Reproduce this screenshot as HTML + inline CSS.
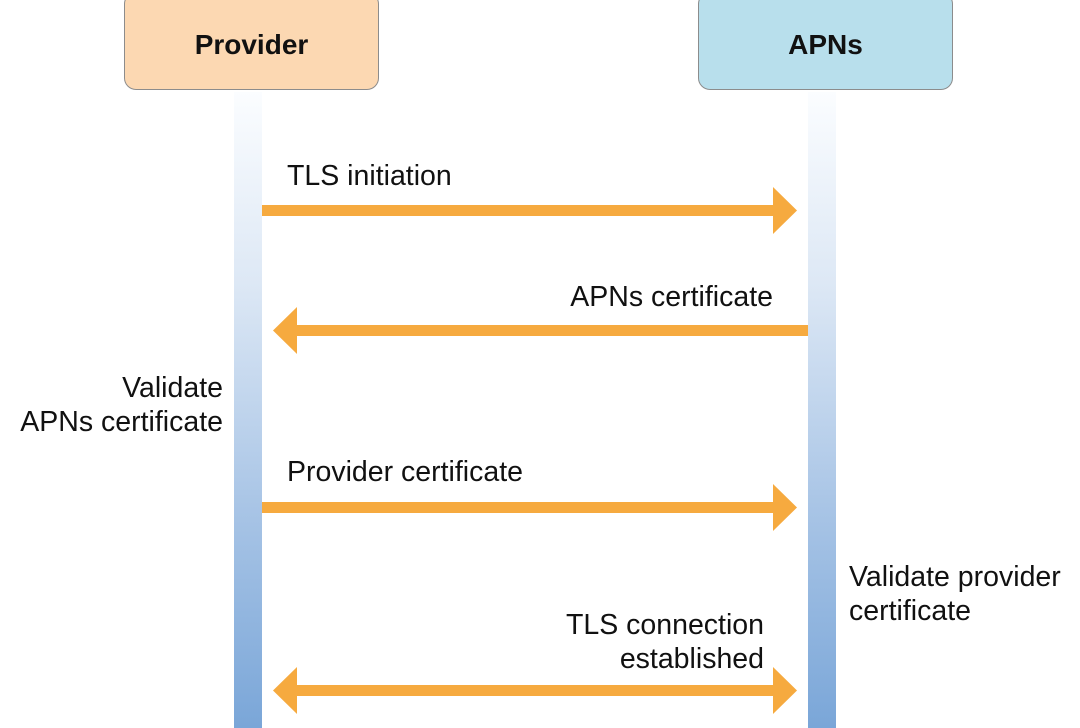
<!DOCTYPE html>
<html><head><style>
body{margin:0;width:1080px;height:728px;background:#fff;position:relative;overflow:hidden;font-family:"Liberation Sans",Arial,Helvetica,sans-serif;}
.box{position:absolute;top:-8px;height:98px;border:1.5px solid #8c8c8c;border-radius:12px;box-sizing:border-box;display:flex;align-items:center;justify-content:center;font-weight:bold;font-size:28px;padding-top:8px;color:#111;}
.life{position:absolute;top:92px;width:28px;height:636px;background:linear-gradient(#fbfdff,#dde8f5 30%,#a9c5e6 65%,#7aa6d8);}
.t{position:absolute;font-size:28.5px;color:#111;line-height:34px;white-space:nowrap;}
</style></head><body>
<div class="box" style="left:124px;width:255px;background:#fcd8b2;">Provider</div>
<div class="box" style="left:698px;width:255px;background:#b8dfec;">APNs</div>
<div class="life" style="left:234px"></div>
<div class="life" style="left:808px"></div>
<svg width="1080" height="728" style="position:absolute;left:0;top:0">
<g fill="#f6aa3f">
<rect x="262" y="205" width="515" height="11"/><polygon points="773,187 797,210.5 773,234"/>
<rect x="293" y="325" width="515" height="11"/><polygon points="297,307 273,330.5 297,354"/>
<rect x="262" y="502" width="515" height="11"/><polygon points="773,484 797,507.5 773,531"/>
<rect x="293" y="685" width="484" height="11"/><polygon points="773,667 797,690.5 773,714"/><polygon points="297,667 273,690.5 297,714"/>
</g></svg>
<div class="t" style="left:287px;top:159px">TLS initiation</div>
<div class="t" style="right:307px;top:280px;text-align:right">APNs certificate</div>
<div class="t" style="right:857px;top:371px;text-align:right">Validate<br>APNs certificate</div>
<div class="t" style="left:287px;top:455px">Provider certificate</div>
<div class="t" style="left:849px;top:560px">Validate provider<br>certificate</div>
<div class="t" style="right:316px;top:608px;text-align:right">TLS connection<br>established</div>
</body></html>
